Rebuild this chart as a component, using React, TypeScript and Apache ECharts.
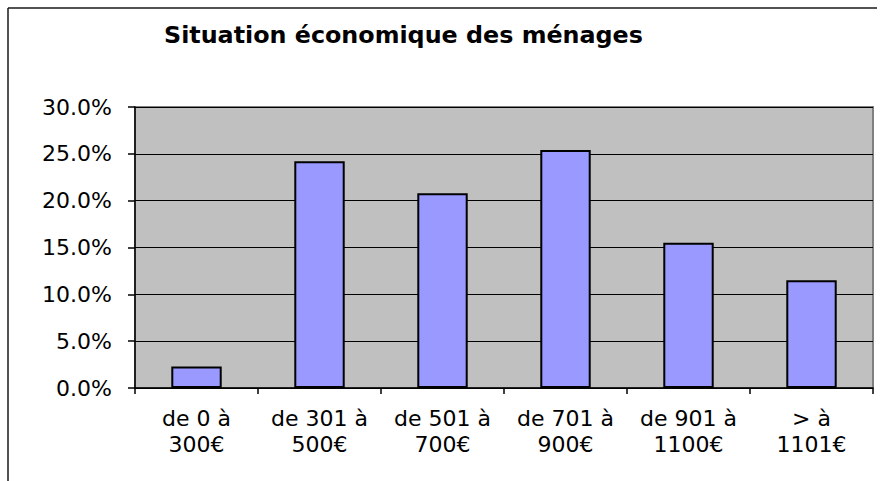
import React, { useEffect, useRef } from "react";
import * as echarts from "echarts";

const titleText = "Situation économique des ménages";
const categories = [
  "de 0 à\n300€",
  "de 301 à\n500€",
  "de 501 à\n700€",
  "de 701 à\n900€",
  "de 901 à\n1100€",
  "> à\n1101€",
];
const shares = [0.023, 0.242, 0.208, 0.254, 0.155, 0.115];
const yMin = 0;
const yMax = 0.3;
const yStep = 0.05;

const labelFont = "DejaVu Sans, Verdana, sans-serif";

export default function App() {
  const ref = useRef<HTMLDivElement>(null);
  useEffect(() => {
    if (!ref.current) return;
    const chart = echarts.init(ref.current, undefined, { renderer: "svg" });
    chart.setOption({
      animation: false,
      backgroundColor: "#ffffff",
      textStyle: { fontFamily: labelFont },
      title: {
        text: titleText,
        left: 159,
        top: 18,
        textStyle: {
          fontFamily: labelFont,
          fontWeight: "bold",
          fontSize: 23.8,
          color: "#000",
        },
      },
      graphic: [
        {
          type: "line",
          shape: { x1: 8, y1: 8, x2: 877, y2: 8 },
          style: { stroke: "#1a1a1a", lineWidth: 1.5 },
        },
        {
          type: "line",
          shape: { x1: 8, y1: 8, x2: 8, y2: 481 },
          style: { stroke: "#1a1a1a", lineWidth: 1.5 },
        },
      ],
      grid: {
        left: 135,
        right: 10,
        top: 107,
        bottom: 93,
        show: true,
        backgroundColor: "#c0c0c0",
        borderColor: "#808080",
        borderWidth: 2,
      },
      xAxis: {
        type: "category",
        data: categories,
        axisLine: { show: true, lineStyle: { color: "#000", width: 1.5 } },
        axisTick: { show: true, length: 6, alignWithLabel: false, lineStyle: { color: "#000", width: 1.5 } },
        axisLabel: {
          color: "#000",
          fontSize: 22,
          lineHeight: 26,
          margin: 17,
          interval: 0,
          fontFamily: labelFont,
        },
        splitLine: { show: false },
      },
      yAxis: {
        type: "value",
        min: yMin,
        max: yMax,
        interval: yStep,
        axisLine: { show: true, lineStyle: { color: "#000", width: 1.5 } },
        axisTick: { show: true, length: 7, lineStyle: { color: "#000", width: 1.5 } },
        axisLabel: {
          color: "#000",
          fontSize: 22,
          margin: 23,
          fontFamily: labelFont,
          formatter: (v: number) => (v * 100).toFixed(1) + "%",
        },
        splitLine: { show: true, lineStyle: { color: "#000", width: 1.2 } },
      },
      series: [
        {
          type: "bar",
          data: shares,
          barWidth: "41%",
          itemStyle: { color: "#9999ff", borderColor: "#000", borderWidth: 2 },
        },
      ],
    });
    return () => chart.dispose();
  }, []);
  return <div ref={ref} style={{ width: 883, height: 481, position: "absolute", left: 0, top: 0 }} />;
}
